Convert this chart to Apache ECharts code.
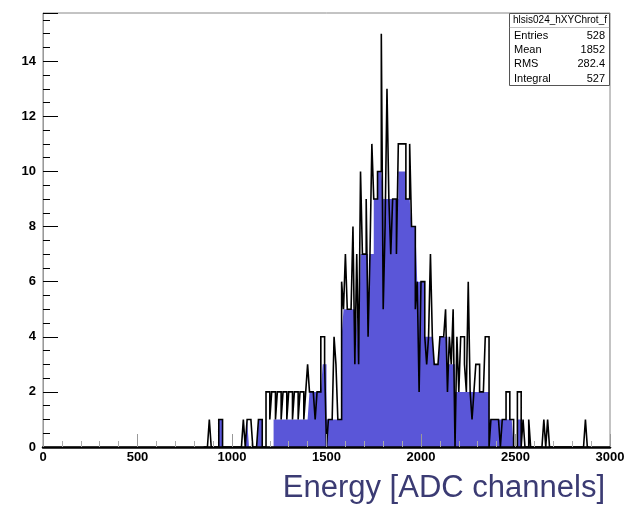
<!DOCTYPE html>
<html><head><meta charset="utf-8">
<script src="https://cdn.jsdelivr.net/npm/echarts@6/dist/echarts.min.js"></script>
<style>html,body{margin:0;padding:0;background:#fff}#c{width:638px;height:506px}</style>
</head><body><div id="c"></div>
<script>
// histogram bins: lower edge = firstEdge + i*binWidth
const firstEdge = 850;
const binWidth = 10;
// outline (black step line) counts per bin
const outlineCounts = [
 0,0,0,1,0,0,0,0,1,1,            // 850-940
 0,0,0,0,0,0,0,0,0,0,            // 950-1040
 0,1,0,1,1,1,0,0,0,1,            // 1050-1140
 1,0,0,2,2,1,2,2,1,2,            // 1150-1240
 2,1,2,2,1,2,2,1,2,2,            // 1250-1340
 1,2,2,1,2,3,2,2,2,1,            // 1350-1440
 2,2,4,4,3,0,1,1,1,4,            // 1450-1540
 3,1,1,6,5,7,5,5,5,8,            // 1550-1640
 3,7,3,10,7,7,9,4,7,11,          // 1650-1740
 9,9,10,10,15,5,8,13,9,7,        // 1750-1840
 9,9,7,11,11,11,11,9,9,11,       // 1850-1940
 8,8,5,6,2,6,6,4,3,4,            // 1950-2040
 7,4,3,3,3,4,4,4,5,2,            // 2050-2140
 4,3,5,0,4,2,4,4,3,2,            // 2150-2240
 6,2,1,2,3,3,2,2,2,4,            // 2250-2340
 4,0,1,1,1,1,1,0,1,1,            // 2350-2440
 2,2,1,1,0,0,2,2,0,1,            // 2450-2540
 0,0,1,0,0,0,0,0,0,0,            // 2550-2640
 1,0,1,0,0,0,0,0,0,0,            // 2650-2740
 0,0,0,0,0,0,0,0,0,0,            // 2750-2840
 0,0,1,0                         // 2850-2880
];
// blue filled level per bin
const fillCounts = [
 0,0,0,0,0,0,0,0,1,1,            // 850-940
 0,0,0,0,0,0,0,0,0,0,            // 950-1040
 0,0,0,1,0,0,0,0,0,1,            // 1050-1140
 1,0,0,0,0,0,0,1,1,1,            // 1150-1240
 1,1,1,1,1,1,1,1,1,1,            // 1250-1340
 1,1,1,1,1,1,2,2,2,2,            // 1350-1440
 2,2,2,3,3,1,1,1,1,1,            // 1450-1540
 1,1,1,4,5,5,5,5,5,5,            // 1550-1640
 3,5,3,7,7,7,7,4,7,7,            // 1650-1740
 9,9,10,10,10,9,9,9,9,9,         // 1750-1840
 9,9,9,10,10,10,10,9,9,9,        // 1850-1940
 8,8,8,6,6,6,6,4,4,4,            // 1950-2040
 4,4,3,3,3,4,4,4,4,3,            // 2050-2140
 3,3,3,2,2,2,2,2,2,2,            // 2150-2240
 2,2,2,2,2,2,2,2,2,2,            // 2250-2340
 2,1,1,1,1,1,1,1,1,1,            // 2350-2440
 1,1,1,1,0,0,1,1,0,0,            // 2450-2540
 0,0,0,0,0,0,0,0,0,0,            // 2550-2640
 0,0,0,0,0,0,0,0,0,0,            // 2650-2740
 0,0,0,0,0,0,0,0,0,0,            // 2750-2840
 0,0,0,0                         // 2850-2880
];
const xMin = 0, xMax = 3000, xStep = 500;
const yMin = 0, yMax = 15.75, yStep = 2;
const statsTitle = 'hlsis024_hXYChrot_f';
const statsLabels = ['Entries', 'Mean', 'RMS', 'Integral'];
const statsValues = ['528', '1852', '282.4', '527'];
const axisTitle = 'Energy [ADC channels]';

function toSteps(counts) {
  const pts = counts.map((c, i) => [firstEdge + i * binWidth, c]);
  pts.push([firstEdge + counts.length * binWidth, 0]);
  return pts;
}

const FONT = 'Liberation Sans, Arial, Helvetica, sans-serif';
const chart = echarts.init(document.getElementById('c'), null, {renderer: 'canvas'});

const statsY = [36, 50, 64, 79];
const graphics = [
  {type: 'rect', shape: {x: 509.5, y: 13.5, width: 100, height: 72}, style: {fill: '#fff', stroke: '#555', lineWidth: 1}, z: 10},
  {type: 'line', shape: {x1: 509.5, y1: 27.5, x2: 609.5, y2: 27.5}, style: {stroke: '#999', lineWidth: 0.6}, z: 11},
  {type: 'text', x: 560, y: 20.5, style: {text: statsTitle, font: '10px ' + FONT, fill: '#000', align: 'center', verticalAlign: 'middle'}, z: 11},
  {type: 'text', right: 33, top: 473, style: {text: axisTitle, font: '31px ' + FONT, fill: '#3b3b73'}, z: 11}
];
statsLabels.forEach((t, i) => {
  graphics.push({type: 'text', x: 514, y: statsY[i], style: {text: t, font: '11px ' + FONT, fill: '#000', align: 'left', verticalAlign: 'middle'}, z: 11});
  graphics.push({type: 'text', x: 605, y: statsY[i], style: {text: statsValues[i], font: '11px ' + FONT, fill: '#000', align: 'right', verticalAlign: 'middle'}, z: 11});
});

chart.setOption({
  animation: false,
  backgroundColor: '#fff',
  grid: {left: 43, right: 28, top: 13, bottom: 59, show: true, borderColor: '#888', borderWidth: 1, backgroundColor: 'transparent'},
  xAxis: {
    type: 'value', min: xMin, max: xMax, interval: xStep, z: 3,
    axisLine: {show: true, onZero: false, lineStyle: {color: '#000', width: 2.5}},
    axisTick: {show: true, inside: true, length: 13, lineStyle: {color: '#999', width: 1}},
    minorTick: {show: true, splitNumber: 5, length: 6, lineStyle: {color: '#aaa', width: 1}},
    axisLabel: {color: '#000', fontSize: 13, fontWeight: 'bold', fontFamily: FONT, margin: 4,
      formatter: v => String(v)},
    splitLine: {show: false}
  },
  yAxis: {
    type: 'value', min: yMin, max: yMax, interval: yStep, z: 3,
    axisLine: {show: true, lineStyle: {color: '#999', width: 1}},
    axisTick: {show: true, inside: true, length: 15, lineStyle: {color: '#000', width: 1}},
    minorTick: {show: true, splitNumber: 4, length: 7, lineStyle: {color: '#000', width: 1}},
    axisLabel: {color: '#000', fontSize: 13, fontWeight: 'bold', fontFamily: FONT, margin: 7,
      formatter: v => (Number.isInteger(v) && v <= 14) ? String(v) : ''},
    splitLine: {show: false}
  },
  series: [
    {type: 'line', step: 'end', data: toSteps(fillCounts), symbol: 'none', silent: true, z: 1,
     lineStyle: {width: 0, color: '#5a56d8'}, areaStyle: {color: '#5a56d8', opacity: 1}},
    {type: 'line', step: 'end', data: toSteps(outlineCounts), symbol: 'none', silent: true, z: 2,
     lineStyle: {width: 1.6, color: '#000', join: 'miter'}}
  ],
  graphic: graphics
});
</script></body></html>
